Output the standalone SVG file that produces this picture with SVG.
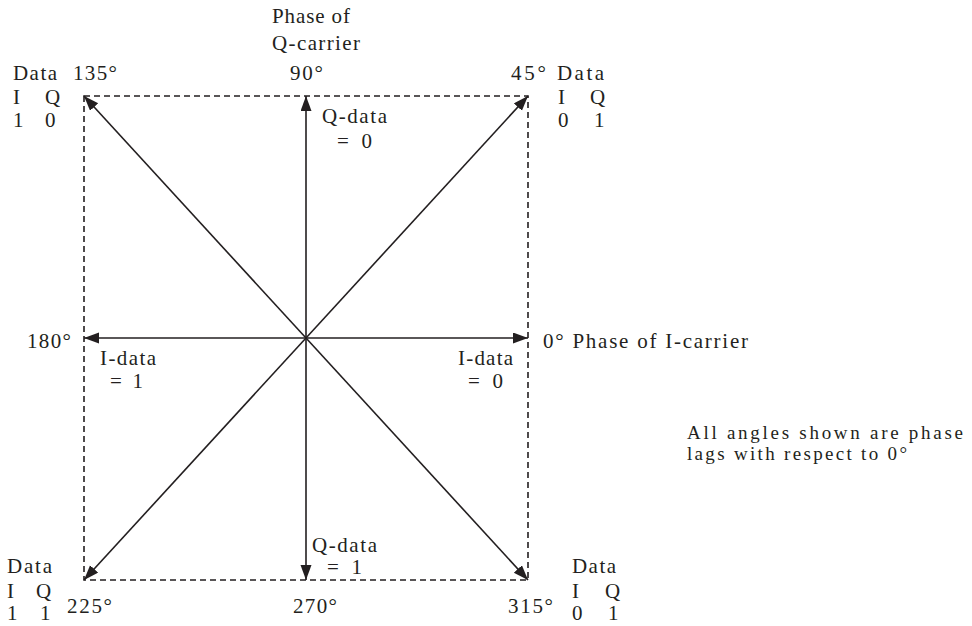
<svg xmlns="http://www.w3.org/2000/svg" width="972" height="626" viewBox="0 0 972 626">
<style>
text{font-family:"Liberation Serif","Times New Roman",serif;font-size:21px;fill:#231f20}
.note{font-size:19px}
.ax{stroke:#231f20;stroke-width:1.6;fill:none}
.dash{stroke:#231f20;stroke-width:1.6;fill:none;stroke-dasharray:6 4}
</style>
<defs>
<marker id="ah" markerUnits="userSpaceOnUse" markerWidth="16" markerHeight="12" refX="15" refY="5.5" orient="auto">
<path d="M0,0 L15,5.5 L0,11 z" fill="#231f20"/>
</marker>
</defs>
<rect class="dash" x="84" y="96" width="444" height="484"/>
<g id="connectors">
<line class="ax" x1="306" y1="338" x2="84" y2="338" marker-end="url(#ah)"/>
<line class="ax" x1="306" y1="338" x2="528" y2="338" marker-end="url(#ah)"/>
<line class="ax" x1="306" y1="338" x2="306" y2="96" marker-end="url(#ah)"/>
<line class="ax" x1="306" y1="338" x2="306" y2="580" marker-end="url(#ah)"/>
<line class="ax" x1="306" y1="338" x2="84" y2="96" marker-end="url(#ah)"/>
<line class="ax" x1="306" y1="338" x2="528" y2="96" marker-end="url(#ah)"/>
<line class="ax" x1="306" y1="338" x2="84" y2="580" marker-end="url(#ah)"/>
<line class="ax" x1="306" y1="338" x2="528" y2="580" marker-end="url(#ah)"/>
</g>
<g id="q-axis-label">
<text x="272" y="23" textLength="78" lengthAdjust="spacing">Phase of</text>
<text x="272" y="50" textLength="88" lengthAdjust="spacing">Q-carrier</text>
</g>
<g id="i-axis-label">
<text x="543" y="348" textLength="205" lengthAdjust="spacing">0° Phase of I-carrier</text>
</g>
<g id="p135">
<text x="13" y="80" textLength="44" lengthAdjust="spacing">Data</text>
<text x="13" y="104">I</text><text x="45" y="104">Q</text>
<text x="13" y="127">1</text><text x="45" y="127">0</text>
<text x="73" y="80" textLength="44" lengthAdjust="spacing">135°</text>
</g>
<g id="p90">
<text x="290" y="80" textLength="33" lengthAdjust="spacing">90°</text>
<text x="322" y="123" textLength="65" lengthAdjust="spacing">Q-data</text>
<text x="337" y="148" textLength="35" lengthAdjust="spacing">= 0</text>
</g>
<g id="p45">
<text x="511" y="80" textLength="35" lengthAdjust="spacing">45°</text>
<text x="557" y="80" textLength="47" lengthAdjust="spacing">Data</text>
<text x="558" y="104">I</text><text x="590" y="104">Q</text>
<text x="558" y="127">0</text><text x="594" y="127">1</text>
</g>
<g id="p180">
<text x="27" y="348" textLength="44" lengthAdjust="spacing">180°</text>
<text x="100" y="365" textLength="56" lengthAdjust="spacing">I-data</text>
<text x="110" y="388" textLength="33" lengthAdjust="spacing">= 1</text>
</g>
<g id="p0">
<text x="458" y="365" textLength="55" lengthAdjust="spacing">I-data</text>
<text x="468" y="388" textLength="35" lengthAdjust="spacing">= 0</text>
</g>
<g id="note">
<text class="note" x="687" y="439" textLength="276" lengthAdjust="spacing">All angles shown are phase</text>
<text class="note" x="687" y="460" textLength="220" lengthAdjust="spacing">lags with respect to 0°</text>
</g>
<g id="p225">
<text x="7" y="573" textLength="45" lengthAdjust="spacing">Data</text>
<text x="7" y="598">I</text><text x="36" y="598">Q</text>
<text x="7" y="620">1</text><text x="40" y="620">1</text>
<text x="67" y="613" textLength="45" lengthAdjust="spacing">225°</text>
</g>
<g id="p270">
<text x="312" y="552" textLength="65" lengthAdjust="spacing">Q-data</text>
<text x="327" y="574" textLength="35" lengthAdjust="spacing">= 1</text>
<text x="293" y="613" textLength="44" lengthAdjust="spacing">270°</text>
</g>
<g id="p315">
<text x="508" y="613" textLength="45" lengthAdjust="spacing">315°</text>
<text x="572" y="573" textLength="44" lengthAdjust="spacing">Data</text>
<text x="572" y="598">I</text><text x="605" y="598">Q</text>
<text x="572" y="620">0</text><text x="608" y="620">1</text>
</g>
</svg>
